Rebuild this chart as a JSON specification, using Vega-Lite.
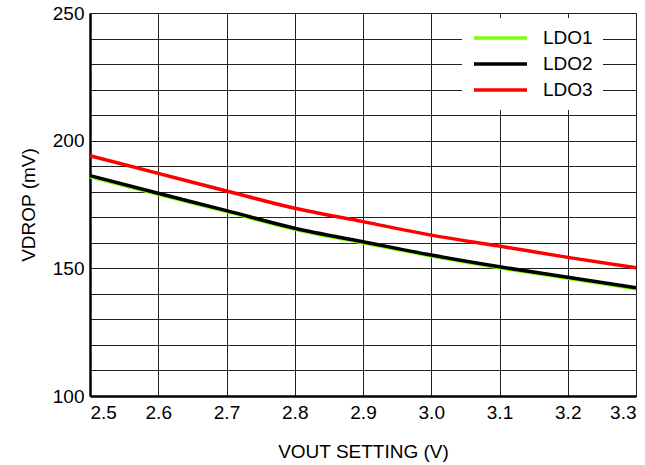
{
  "$schema": "https://vega.github.io/schema/vega-lite/v6.json",
  "autosize": {"type": "none"},
  "width": 546,
  "height": 383,
  "padding": {"left": 90, "top": 13, "right": 9, "bottom": 69},
  "background": "white",
  "config": {
    "font": "Liberation Sans",
    "view": {"stroke": "#555555", "strokeWidth": 1},
    "axis": {
      "labelFont": "Liberation Sans",
      "titleFont": "Liberation Sans",
      "labelFontSize": 19,
      "titleFontSize": 19,
      "titleFontWeight": "normal",
      "labelColor": "black",
      "titleColor": "black",
      "gridColor": "#222222",
      "gridWidth": 1,
      "gridOpacity": 1,
      "domainColor": "black",
      "domainWidth": 2.5,
      "ticks": false
    },
    "legend": {
      "labelFont": "Liberation Sans",
      "labelFontSize": 19,
      "labelColor": "black"
    }
  },
  "data": {
    "values": [
      {"v": 2.5, "s": "LDO1", "d": 185.8},
      {"v": 2.6, "s": "LDO1", "d": 179.0},
      {"v": 2.7, "s": "LDO1", "d": 172.2},
      {"v": 2.8, "s": "LDO1", "d": 165.3},
      {"v": 2.9, "s": "LDO1", "d": 160.0},
      {"v": 3.0, "s": "LDO1", "d": 154.8},
      {"v": 3.1, "s": "LDO1", "d": 150.2},
      {"v": 3.2, "s": "LDO1", "d": 146.1},
      {"v": 3.3, "s": "LDO1", "d": 142.0},
      {"v": 2.5, "s": "LDO2", "d": 186.3},
      {"v": 2.6, "s": "LDO2", "d": 179.4},
      {"v": 2.7, "s": "LDO2", "d": 172.6},
      {"v": 2.8, "s": "LDO2", "d": 165.7},
      {"v": 2.9, "s": "LDO2", "d": 160.4},
      {"v": 3.0, "s": "LDO2", "d": 155.2},
      {"v": 3.1, "s": "LDO2", "d": 150.6},
      {"v": 3.2, "s": "LDO2", "d": 146.5},
      {"v": 3.3, "s": "LDO2", "d": 142.4},
      {"v": 2.5, "s": "LDO3", "d": 194.1},
      {"v": 2.6, "s": "LDO3", "d": 187.2},
      {"v": 2.7, "s": "LDO3", "d": 180.3},
      {"v": 2.8, "s": "LDO3", "d": 173.5},
      {"v": 2.9, "s": "LDO3", "d": 168.3},
      {"v": 3.0, "s": "LDO3", "d": 163.0},
      {"v": 3.1, "s": "LDO3", "d": 158.7},
      {"v": 3.2, "s": "LDO3", "d": 154.3},
      {"v": 3.3, "s": "LDO3", "d": 150.2}
    ]
  },
  "mark": {"type": "line", "strokeWidth": 3.5, "interpolate": "monotone"},
  "encoding": {
    "x": {
      "field": "v",
      "type": "quantitative",
      "scale": {"domain": [2.5, 3.3], "nice": false, "zero": false},
      "axis": {
        "title": "VOUT SETTING (V)",
        "values": [2.5, 2.6, 2.7, 2.8, 2.9, 3.0, 3.1, 3.2, 3.3],
        "format": ".1f",
        "labelFlush": true,
        "labelPadding": 7,
        "titlePadding": 20,
        "grid": true
      }
    },
    "y": {
      "field": "d",
      "type": "quantitative",
      "scale": {"domain": [100, 250], "nice": false, "zero": false},
      "axis": {
        "title": "VDROP (mV)",
        "values": [100, 110, 120, 130, 140, 150, 160, 170, 180, 190, 200, 210, 220, 230, 240, 250],
        "labelExpr": "datum.value % 50 === 0 ? datum.label : ''",
        "labelPadding": 6,
        "titlePadding": 14,
        "grid": true
      }
    },
    "color": {
      "field": "s",
      "type": "nominal",
      "scale": {"domain": ["LDO1", "LDO2", "LDO3"], "range": ["#7fff00", "#000000", "#ff0000"]},
      "legend": {
        "title": null,
        "orient": "none",
        "legendX": 372,
        "legendY": 5,
        "fillColor": "white",
        "padding": 10,
        "symbolType": "stroke",
        "symbolSize": 2809,
        "symbolStrokeWidth": 3.5,
        "clipHeight": 20,
        "rowPadding": 6,
        "labelOffset": 14
      }
    }
  }
}
